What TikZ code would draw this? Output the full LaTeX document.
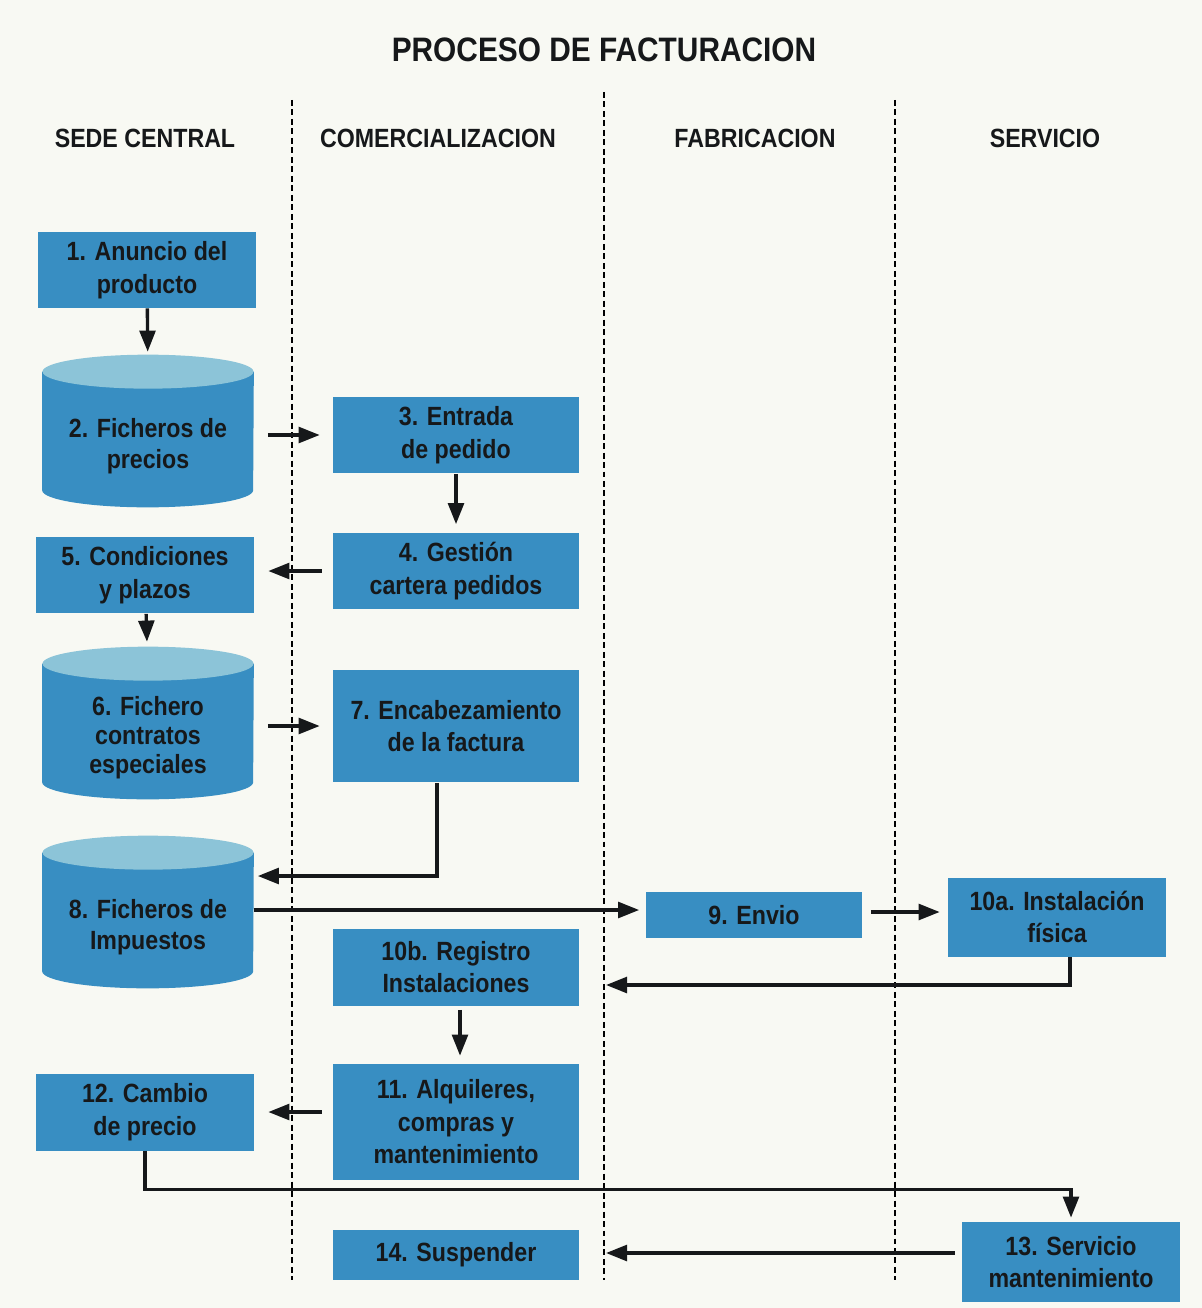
\documentclass[tikz,border=0pt]{standalone}
\usepackage{fontspec}
\setmainfont{Liberation Sans}[FakeStretch=0.88]
\usetikzlibrary{arrows.meta,calc,backgrounds}

\definecolor{boxblue}{RGB}{56,142,194}
\definecolor{topblue}{RGB}{140,196,216}
\definecolor{txt}{RGB}{22,24,26}
\definecolor{paper}{RGB}{248,249,243}

\tikzset{
  proc/.style={rectangle, fill=boxblue, text=txt, align=center, inner sep=2pt,
    minimum width=4.92cm, minimum height=1.54cm,
    font=\bfseries\fontsize{15}{18.5}\selectfont},
  proccorto/.style={proc, minimum width=4.36cm},
  fichero/.style={rectangle, text=txt, align=center, inner sep=0pt,
    minimum width=4.22cm, minimum height=2.44cm,
    font=\bfseries\fontsize{15}{18}\selectfont},
  carril/.style={black, line width=1.3pt, dash pattern=on 3.4pt off 2pt},
  cabecera/.style={font=\bfseries\fontsize{15}{17}\selectfont, text=txt},
  flecha/.style={->, line width=1.9pt, draw=txt}
}

% cuerpo y tapa del cilindro detras del nodo #1
\newcommand{\cilindro}[1]{%
  \fill[boxblue] ($(#1.north west)+(0,-13)$) -- ($(#1.south west)+(0,-17)$)
    arc[start angle=180, end angle=360, x radius=2.11cm, y radius=0.34cm]
    -- ($(#1.north east)+(0,-13)$) -- cycle;
  \fill[topblue] ($(#1.north)+(0,-13)$) ellipse [x radius=2.11cm, y radius=0.34cm];
}

\begin{document}
\begin{tikzpicture}[x=0.02cm, y=-0.02cm, >={Triangle[length=12pt,width=9pt]}]
	\useasboundingbox (0,0) rectangle (1202,1308);

	% titulo y cabeceras
	\node[cabecera, font=\bfseries\fontsize{19.3}{22}\selectfont] (titulo) at (604,50) {PROCESO DE FACTURACION};
	\node[cabecera] (sede) at (145,138) {SEDE CENTRAL};
	\node[cabecera] (comer) at (438,138) {COMERCIALIZACION};
	\node[cabecera] (fabr) at (755,138) {FABRICACION};
	\node[cabecera] (serv) at (1045,138) {SERVICIO};

	% carriles
	\draw[carril] (292,100) -- (292,1280);
	\draw[carril] (604,92) -- (604,1280);
	\draw[carril] (895,100) -- (895,1280);
	\coordinate (e10b) at (604,985);
	\coordinate (e14) at (604,1253);
	\coordinate (y8) at (0,876);
	\coordinate (y9) at (0,910);
	\coordinate (y10) at (0,912);

	% pasos
	\node[proccorto, minimum height=1.52cm] (n1) at (147,270) {1. Anuncio del\\producto};
	\node[fichero] (n2) at (148,446) {2. Ficheros de\\precios};
	\node[proc] (n3) at (456,435) {3. Entrada\\de pedido};
	\node[proc] (n4) at (456,571) {4. Gestión\\cartera pedidos};
	\node[proccorto] (n5) at (145,575) {5. Condiciones\\y plazos};
	\node[fichero, font=\bfseries\fontsize{15}{16.5}\selectfont] (n6) at (148,738) {6. Fichero\\contratos\\especiales};
	\node[proc, minimum height=2.26cm] (n7) at (456,726) {7. Encabezamiento\\de la factura};
	\node[fichero] (n8) at (148,927) {8. Ficheros de\\Impuestos};
	\node[proccorto, minimum width=4.34cm, minimum height=0.92cm] (n9) at (754,915) {9. Envio};
	\node[proccorto, minimum height=1.58cm] (n10a) at (1057,917) {10a. Instalación\\física};
	\node[proc] (n10b) at (456,967) {10b. Registro\\Instalaciones};
	\node[proc, minimum height=2.32cm] (n11) at (456,1122) {11. Alquileres,\\compras y\\mantenimiento};
	\node[proccorto] (n12) at (145,1112) {12. Cambio\\de precio};
	\node[proccorto, minimum height=1.6cm] (n13) at (1071,1262) {13. Servicio\\mantenimiento};
	\node[proc, minimum height=1cm] (n14) at (456,1255) {14. Suspender};

	\begin{scope}[on background layer]
		\fill[paper] (0,0) rectangle (1202,1308);
		\cilindro{n2}
		\cilindro{n6}
		\cilindro{n8}
	\end{scope}

	% flujo
	\draw[flecha, shorten >=0.66cm] (n1) -- (n2.north);
	\draw[flecha, shorten <=0.28cm, shorten >=0.26cm] (n2.east |- n3.west) -- (n3.west);
	\draw[flecha, shorten >=0.16cm] (n3) -- (n4);
	\draw[flecha, shorten <=0.22cm, shorten >=0.28cm] (n4.west) -- (n5.east |- n4.west);
	\draw[flecha, shorten >=0.7cm] (n5) -- (n6.north);
	\draw[flecha, shorten <=0.28cm, shorten >=0.26cm] (n6.east |- n7.west) -- (n7.west);
	\draw[flecha, shorten >=0.08cm] ($(n7.south)+(-19,0)$) |- (n8.east |- y8);
	\draw[flecha, shorten >=0.12cm] (n8.east |- y9) -- (n9.west |- y9);
	\draw[flecha, shorten <=0.16cm, shorten >=0.16cm] (n9.east |- y10) -- (n10a.west |- y10);
	\draw[flecha, shorten >=0.04cm] ($(n10a.south)+(13,0)$) |- (e10b);
	\draw[flecha, shorten <=0.08cm, shorten >=0.16cm] ($(n10b.south)+(4,0)$) -- ($(n11.north)+(4,0)$);
	\draw[flecha, shorten <=0.22cm, shorten >=0.28cm] (n11.west |- n12.east) -- (n12.east);
	\draw[flecha, shorten >=0.08cm] (n12.south) |- ($(n13.north)+(0,-32)$) -- (n13.north);
	\draw[flecha, shorten <=0.14cm, shorten >=0.04cm] (n13.west |- e14) -- (e14);
\end{tikzpicture}
\end{document}
